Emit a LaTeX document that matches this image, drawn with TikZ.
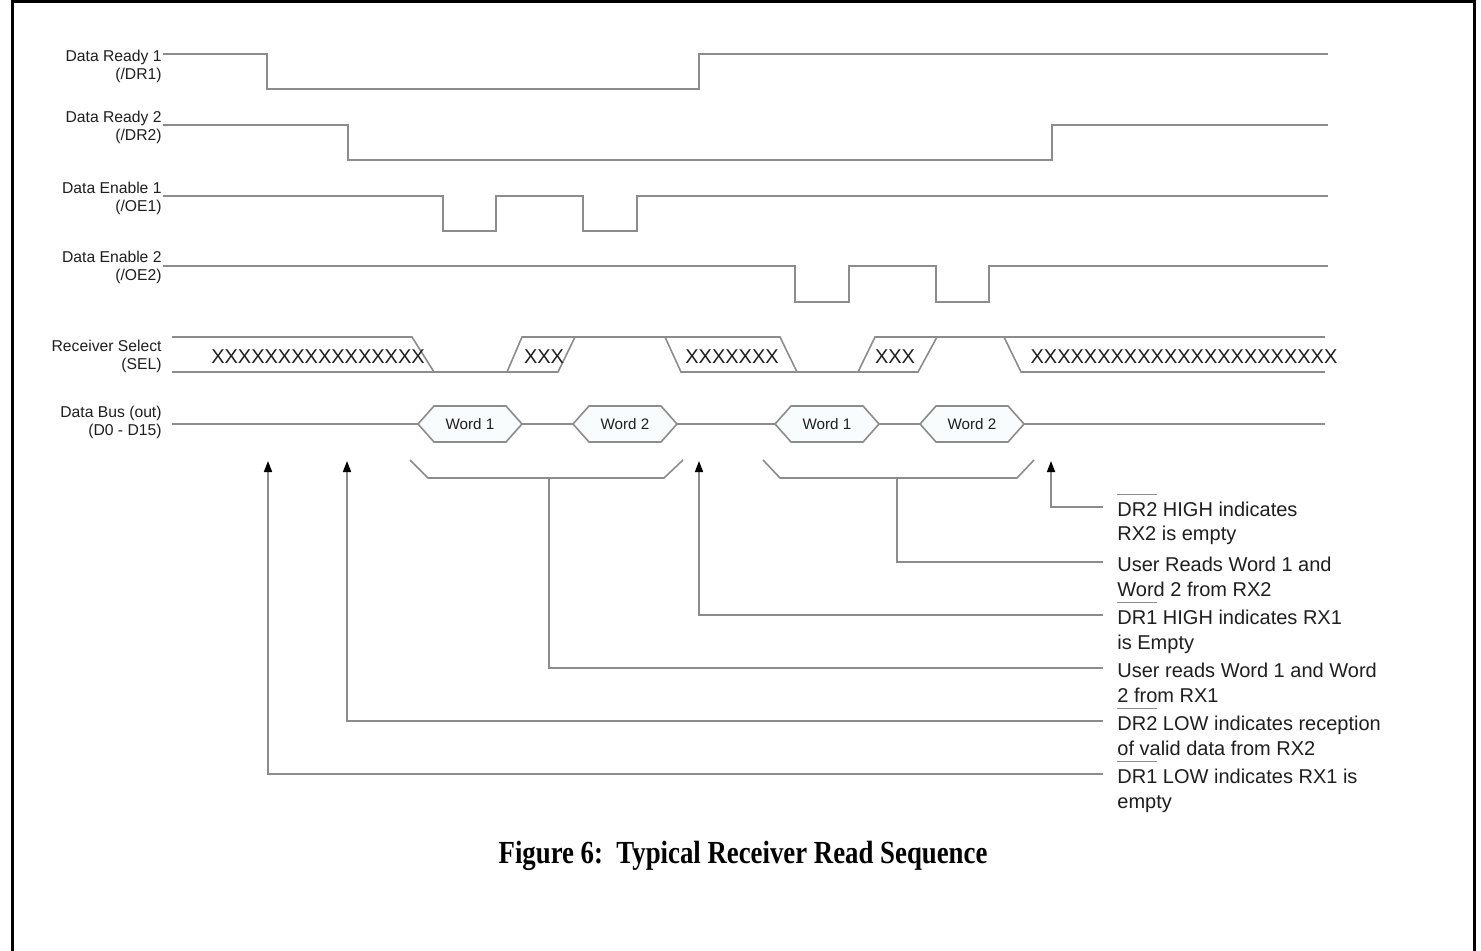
\documentclass[tikz,border=0pt]{standalone}
\usepackage{fontspec}
\setmainfont{Liberation Sans}
\newfontfamily\capfont{Liberation Serif}
\usepackage{graphicx}
\usepackage{tikz}
\usetikzlibrary{arrows.meta, calc}

\definecolor{garis}{gray}{0.55}
\definecolor{isi}{rgb}{0.975,0.988,0.988}
\definecolor{tinta}{gray}{0.12}

\newcommand{\ovr}[1]{\setbox0\hbox{#1}\rlap{\color{garis}\rule[10.5pt]{\wd0}{0.6pt}}\box0{}}
\newcommand{\dua}[3][l]{\begin{tabular}[t]{@{}#1@{}}#2\\#3\end{tabular}}

\begin{document}
\begin{tikzpicture}[x=0.5pt, y=-0.5pt,
    sinyal/.style={draw=garis, line width=0.8pt},
    nama/.style={anchor=base east, inner sep=0pt, text=tinta, font=\fontsize{7.85}{9}\selectfont},
    kata/.style={draw=garis, fill=isi, line width=0.8pt},
    silang/.style={inner sep=0pt, text=tinta, font=\fontsize{10}{12}\selectfont},
    catatan/.style={anchor=base west, inner sep=0pt, text=tinta, font=\fontsize{10}{12.5}\selectfont},
    panah/.style={draw=garis, line width=0.8pt, -{Triangle[length=5.5pt, width=4pt, color=black]}}
  ]
    \useasboundingbox (0,0) rectangle (1481,951);
    \fill[white] (0,0) rectangle (1481,951);
    \draw[line width=1.5pt] (12,951) -- (12,2) -- (1474,2) -- (1474,951);

    % nama sinyal
    \node[nama] (ldr1) at (162,62) {\dua[r]{Data Ready 1}{(/DR1)}};
    \node[nama] (ldr2) at (162,123) {\dua[r]{Data Ready 2}{(/DR2)}};
    \node[nama] (loe1) at (162,194) {\dua[r]{Data Enable 1}{(/OE1)}};
    \node[nama] (loe2) at (162,263) {\dua[r]{Data Enable 2}{(/OE2)}};
    \node[nama] (lsel) at (162,352) {\dua[r]{Receiver Select}{(SEL)}};
    \node[nama] (lbus) at (162,418) {\dua[r]{Data Bus (out)}{(D0 - D15)}};

    \draw[sinyal] (163,54) -| (267,89) -| (699,54) -- (1328,54);
    \draw[sinyal] (163,125) -| (348,160) -| (1052,125) -- (1328,125);
    \draw[sinyal] (163,196) -| (443,231) -| (496,196) -| (583,231) -| (637,196) -- (1328,196);
    \draw[sinyal] (163,266) -| (795,302) -| (849,266) -| (936,302) -| (989,266) -- (1328,266);

    % receiver select
    \draw[sinyal] (172,337) -- (412,337) -- (434,372);
    \draw[sinyal] (172,372) -- (507,372) -- (522,337) -- (665,337) -- (681,372) -- (858,372)
                  -- (875,337) -- (1004,337) -- (1021,372) -- (1325,372);
    \draw[sinyal] (507,372) -- (558,372) -- (575,337);
    \draw[sinyal] (665,337) -- (780,337) -- (797,372);
    \draw[sinyal] (858,372) -- (918,372) -- (937,337);
    \draw[sinyal] (1004,337) -- (1325,337);
    \node[silang] (x1) at (318,357) {XXXXXXXXXXXXXXXX};
    \node[silang] (x2) at (544,357) {XXX};
    \node[silang] (x3) at (732,357) {XXXXXXX};
    \node[silang] (x4) at (895,357) {XXX};
    \node[silang] (x5) at (1184,357) {XXXXXXXXXXXXXXXXXXXXXXX};

    % data bus
    \draw[sinyal] (172,424) -- (1325,424);
    \foreach \cx/\nm/\t in {470/w1/1, 625/w2/2, 827/w3/1, 972/w4/2} {
      \draw[kata] (\cx-52,424) -- ++(16,-18) -- ++(72,0) -- ++(16,18) -- ++(-16,18) -- ++(-72,0) -- cycle;
      \node[inner sep=0pt, text=tinta, font=\fontsize{7.6}{9}\selectfont] (\nm) at (\cx,424) {Word \t};
    }

    % keterangan
    \draw[sinyal] (410,460) -- (428,478) -- (664,478) -- (683,460);
    \draw[sinyal] (763,460) -- (780,478) -- (1017,478) -- (1034,460);
    \coordinate (k1) at (549,478);
    \coordinate (k2) at (897,478);
    \foreach \nm/\x in {a1/268, a2/347, a3/699, a4/1051}
      \coordinate (\nm) at (\x,461);
    \foreach \nm/\y in {e1/774, e2/721, e3/668, e4/615, e5/562, e6/507}
      \coordinate (\nm) at (1103,\y);

    \node[catatan] (n1) at (1117,783) {\dua{\ovr{DR1} LOW indicates RX1 is}{empty}};
    \node[catatan] (n2) at (1117,730) {\dua{\ovr{DR2} LOW indicates reception}{of valid data from RX2}};
    \node[catatan] (n3) at (1117,677) {\dua{User reads Word 1 and Word}{2 from RX1}};
    \node[catatan] (n4) at (1117,624) {\dua{\ovr{DR1} HIGH indicates RX1}{is Empty}};
    \node[catatan] (n5) at (1117,571) {\dua{User Reads Word 1 and}{Word 2 from RX2}};
    \node[catatan] (n6) at (1117,516) {\dua{\ovr{DR2} HIGH indicates}{RX2 is empty}};

    \draw[panah] (e1) -| (a1);
    \draw[panah] (e2) -| (a2);
    \draw[sinyal] (e3) -| (k1);
    \draw[panah] (e4) -| (a3);
    \draw[sinyal] (e5) -| (k2);
    \draw[panah] (e6) -| (a4);

    \node[anchor=base, inner sep=0pt, font=\capfont\bfseries\fontsize{13.4}{16}\selectfont] (judul)
      at (743,863) {\scalebox{1}[1.2]{Figure 6:\ \ Typical Receiver Read Sequence}};
  \end{tikzpicture}
\end{document}
